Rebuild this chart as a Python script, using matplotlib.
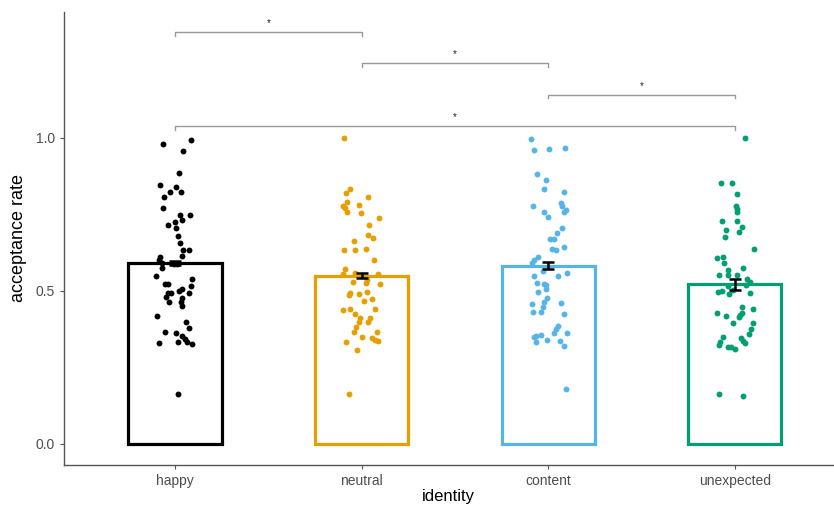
import matplotlib
matplotlib.use("Agg")
import matplotlib.pyplot as plt
import numpy as np

plt.rcParams['font.family'] = ['Liberation Sans', 'DejaVu Sans']

categories = ['happy', 'neutral', 'content', 'unexpected']
colors = ['#000000', '#E69F00', '#56B4E9', '#009E73']
means = [0.591, 0.549, 0.582, 0.521]
sems = [0.007, 0.008, 0.012, 0.019]

# individual acceptance rates (value, horizontal jitter)
happy_y = [0.979, 0.993, 0.957, 0.887, 0.846, 0.841, 0.824, 0.824, 0.807, 0.772,
           0.748, 0.748, 0.724, 0.731, 0.716, 0.704, 0.680, 0.658, 0.633, 0.633,
           0.614, 0.612, 0.601, 0.590, 0.588, 0.588, 0.574, 0.550, 0.538, 0.523,
           0.521, 0.516, 0.505, 0.494, 0.492, 0.499, 0.494, 0.481, 0.477, 0.465,
           0.462, 0.449, 0.418, 0.397, 0.377, 0.366, 0.362, 0.352, 0.343, 0.334,
           0.327, 0.329, 0.333, 0.162]
happy_jit = [-0.066, 0.084, 0.041, 0.021, -0.080, 0.007, -0.029, 0.034, -0.057, -0.062,
             0.025, 0.080, 0.002, 0.037, -0.037, 0.007, 0.014, 0.027, 0.045, 0.077,
             0.037, -0.080, -0.087, -0.070, -0.005, 0.012, -0.070, -0.102, 0.091, -0.053,
             -0.037, 0.084, 0.037, -0.036, -0.020, 0.020, 0.077, -0.048, 0.039, -0.034,
             0.034, 0.036, -0.095, 0.061, 0.073, -0.053, 0.007, 0.039, 0.053, 0.066,
             0.091, -0.084, 0.018, 0.016]

neutral_y = [1.0, 0.833, 0.821, 0.807, 0.792, 0.778, 0.770, 0.781, 0.757, 0.756,
             0.737, 0.714, 0.683, 0.672, 0.663, 0.633, 0.634, 0.637, 0.602, 0.572,
             0.555, 0.558, 0.556, 0.528, 0.525, 0.536, 0.521, 0.494, 0.488, 0.491,
             0.497, 0.468, 0.475, 0.437, 0.440, 0.442, 0.424, 0.410, 0.412, 0.398,
             0.397, 0.383, 0.366, 0.364, 0.349, 0.346, 0.338, 0.336, 0.332, 0.307,
             0.162]
neutral_jit = [-0.095, -0.064, -0.082, 0.034, -0.079, -0.100, -0.091, -0.014, -0.079, -0.002,
               0.091, 0.039, 0.034, 0.059, -0.039, -0.095, -0.037, 0.021, 0.066, -0.089,
               -0.100, -0.034, 0.089, -0.045, 0.025, 0.029, 0.096, -0.064, -0.070, -0.014,
               0.027, 0.014, 0.055, -0.098, -0.064, 0.070, -0.036, -0.011, 0.045, -0.014,
               0.032, -0.029, -0.041, 0.084, 0.004, 0.057, 0.070, 0.086, -0.082, -0.025,
               -0.068]

content_y = [0.996, 0.961, 0.964, 0.968, 0.882, 0.863, 0.833, 0.824, 0.778, 0.786,
             0.778, 0.765, 0.758, 0.757, 0.741, 0.704, 0.688, 0.671, 0.668, 0.636,
             0.632, 0.643, 0.611, 0.601, 0.590, 0.566, 0.549, 0.550, 0.558, 0.525,
             0.523, 0.518, 0.505, 0.496, 0.476, 0.465, 0.456, 0.460, 0.447, 0.432,
             0.430, 0.424, 0.386, 0.375, 0.362, 0.363, 0.349, 0.353, 0.356, 0.334,
             0.338, 0.336, 0.320, 0.179]
content_jit = [-0.093, -0.078, 0.002, 0.091, -0.061, -0.012, -0.020, 0.084, -0.082, 0.068,
               0.075, 0.093, 0.082, -0.021, 0.000, 0.075, 0.046, 0.011, 0.030, 0.021,
               0.039, 0.086, -0.057, -0.078, -0.089, -0.029, -0.078, 0.052, 0.100, -0.061,
               -0.025, -0.011, -0.011, -0.057, -0.007, -0.020, -0.087, 0.071, -0.030, -0.082,
               -0.039, 0.087, 0.050, 0.039, 0.029, 0.100, -0.078, -0.064, -0.039, -0.066,
               -0.004, 0.064, 0.086, 0.093]

unexpected_y = [1.0, 0.852, 0.854, 0.818, 0.779, 0.767, 0.757, 0.730, 0.730, 0.699,
                0.708, 0.693, 0.676, 0.638, 0.607, 0.610, 0.590, 0.574, 0.568, 0.553,
                0.551, 0.553, 0.538, 0.528, 0.520, 0.516, 0.497, 0.498, 0.490, 0.503,
                0.494, 0.447, 0.442, 0.429, 0.417, 0.422, 0.427, 0.414, 0.395, 0.394,
                0.375, 0.358, 0.349, 0.345, 0.334, 0.322, 0.317, 0.316, 0.311, 0.329,
                0.337, 0.162, 0.156]
unexpected_jit = [0.057, -0.073, -0.014, 0.014, 0.007, 0.011, 0.012, -0.068, 0.011, -0.045,
                  0.039, 0.023, -0.053, 0.100, -0.093, -0.061, -0.057, 0.045, -0.039, -0.086,
                  -0.036, 0.012, 0.066, 0.080, 0.062, -0.036, -0.089, -0.071, -0.030, -0.012,
                  0.080, 0.041, 0.098, -0.093, -0.050, 0.027, 0.039, 0.021, -0.012, 0.096,
                  0.086, 0.075, -0.062, 0.032, -0.077, -0.087, -0.037, -0.018, 0.000, 0.057,
                  0.046, -0.087, 0.046]

points = [(happy_y, happy_jit), (neutral_y, neutral_jit),
          (content_y, content_jit), (unexpected_y, unexpected_jit)]

# significance comparisons (group index a, group index b, bracket height)
comparisons = [(0, 1, 1.346), (1, 2, 1.245), (2, 3, 1.141), (0, 3, 1.039)]

fig = plt.figure(figsize=(8.34, 5.07), dpi=100)
ax = fig.add_axes([0.0767, 0.083, 0.923, 0.8935])

xs = np.arange(1, len(categories) + 1)
ax.bar(xs, means, width=0.5, facecolor='none', edgecolor=colors, linewidth=2.3, zorder=2)

for i, (yv, jit) in enumerate(points):
    ax.scatter(xs[i] + np.array(jit), yv, s=18, color=colors[i], linewidths=0, zorder=3)

ax.errorbar(xs, means, yerr=sems, fmt='none', ecolor='black', elinewidth=1.8,
            capsize=4, capthick=1.8, zorder=4)

tip = 0.012
for a, b, h in comparisons:
    x1, x2 = xs[a], xs[b]
    ax.plot([x1, x1, x2, x2], [h - tip, h, h, h - tip], color='#999999', lw=1, zorder=1)
    ax.text((x1 + x2) / 2, h + 0.012, '*', ha='center', va='bottom', fontsize=7, color='#222222')

ax.set_xlim(0.405, 4.53)
ax.set_ylim(-0.069, 1.412)
ax.set_xticks(xs)
ax.set_xticklabels(categories)
ax.set_yticks([0.0, 0.5, 1.0])
ax.set_yticklabels(['0.0', '0.5', '1.0'])
ax.tick_params(colors='#555555', labelcolor='#4d4d4d', labelsize=10, length=3, width=0.8)
for s in ['top', 'right']:
    ax.spines[s].set_visible(False)
for s in ['left', 'bottom']:
    ax.spines[s].set_color('#555555')
    ax.spines[s].set_linewidth(1)

ax.set_xlabel('identity', fontsize=12, labelpad=1)
ax.set_ylabel('acceptance rate', fontsize=13, labelpad=6)

fig.savefig('out.png', dpi=100)
